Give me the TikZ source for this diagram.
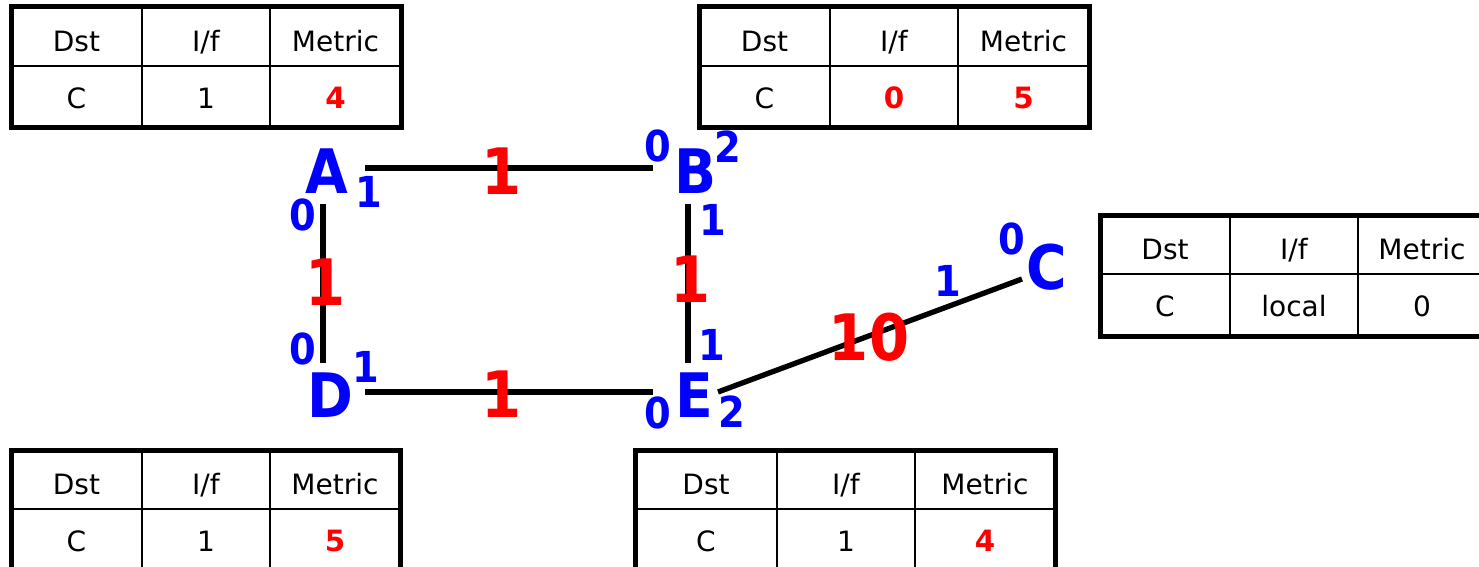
\documentclass[tikz,border=0pt]{standalone}
\usepackage{fontspec}
\setmainfont{DejaVu Sans}
\newfontfamily\bfc{DejaVu Sans}[FakeStretch=0.9]
\newcommand\hotv[1]{\textcolor{red}{\bfseries\fontsize{22}{22}\selectfont #1}}
\newcommand\rtab[9]{%
  \draw[line width=1.5pt] (#3,#6) -- (#3,#6+121) (#4,#6) -- (#4,#6+121) (#2,#6+59) -- (#5,#6+59);
  \draw[line width=3.75pt] (#2,#6) rectangle (#5,#6+121);
  \node[cell] (#1h1) at ({(#2+#3)/2},#6+34) {Dst};
  \node[cell] (#1h2) at ({(#3+#4)/2},#6+34) {I/f};
  \node[cell] (#1h3) at ({(#4+#5)/2},#6+34) {Metric};
  \node[cell] (#1v1) at ({(#2+#3)/2},#6+91) {#7};
  \node[cell] (#1v2) at ({(#3+#4)/2},#6+91) {#8};
  \node[cell] (#1v3) at ({(#4+#5)/2},#6+91) {#9};
}
\begin{document}
\begin{tikzpicture}[x=0.75pt,y=-0.75pt,
  router/.style={text=blue, font=\bfc\bfseries\fontsize{46}{46}\selectfont, text height=33.5pt, text depth=0pt, inner sep=0},
  weight/.style={text=red, font=\bfc\bfseries\fontsize{48}{48}\selectfont, text height=35pt, text depth=0pt, inner sep=0},
  iface/.style={text=blue, font=\bfc\bfseries\fontsize{32}{32}\selectfont, text height=23.3pt, text depth=0pt, inner sep=0},
  link/.style={line width=4pt},
  cell/.style={font=\fontsize{21}{21}\selectfont, text height=15.3pt, text depth=0pt, inner sep=0}]
\useasboundingbox (0,0) rectangle (1479,567);
\clip (0,0) rectangle (1479,567);
% routing tables
\rtab{tA}{11}{142}{270}{401}{7}{C}{1}{\hotv{4}}
\rtab{tB}{699}{830}{958}{1089}{7}{C}{\hotv{0}}{\hotv{5}}
\rtab{tC}{1100}{1230}{1358}{1486}{215}{C}{local}{0}
\rtab{tD}{11}{142}{270}{400}{450}{C}{1}{\hotv{5}}
\rtab{tE}{635}{777}{915}{1055}{450}{C}{1}{\hotv{4}}
% routers
\node[router] (A) at (327,171) {A};
\node[router] (B) at (696,171) {B};
\node[router] (D) at (330,395) {D};
\node[router] (E) at (694,395) {E};
\node[router] (C) at (1047,267) {C};
% links
\draw[link] ([shift={(38,-3)}]A.center) -- ([shift={(-43,-3)}]B.center);
\draw[link] ([shift={(-4,33)}]A.center) -- ([shift={(-7,-32)}]D.center);
\draw[link] ([shift={(-8,33)}]B.center) -- ([shift={(-6,-32)}]E.center);
\draw[link] ([shift={(35,-3)}]D.center) -- ([shift={(-41,-3)}]E.center);
\draw[link] ([shift={(24,-3)}]E.center) -- ([shift={(-25,12)}]C.center);
% link weights
\node[weight] (wAB) at (502,171) {1};
\node[weight] (wAD) at (326,282) {1};
\node[weight] (wBE) at (691,279) {1};
\node[weight] (wDE) at (502,394) {1};
\node[weight] (wEC) at (869,337) {10};
% interface numbers
\node[iface] (iA1) at (369,192) {1};
\node[iface] (iA0) at (303,215) {0};
\node[iface] (iB0) at (658,146) {0};
\node[iface] (iB2) at (728,147) {2};
\node[iface] (iB1) at (713,220) {1};
\node[iface] (iD0) at (303,349) {0};
\node[iface] (iD1) at (366,367) {1};
\node[iface] (iE1) at (712,345) {1};
\node[iface] (iE0) at (658,413) {0};
\node[iface] (iE2) at (732,412) {2};
\node[iface] (iC0) at (1012,239) {0};
\node[iface] (iC1) at (948,281) {1};
\end{tikzpicture}
\end{document}
